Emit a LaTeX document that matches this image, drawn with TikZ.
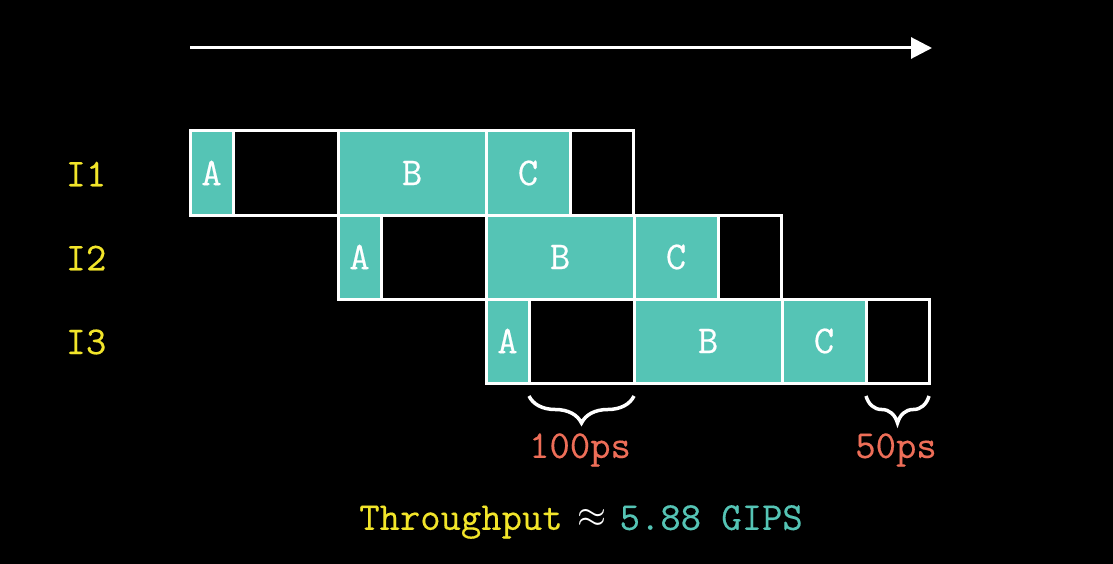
\documentclass[tikz,border=0pt]{standalone}
\usepackage{fontspec}
\newfontfamily\mono{Latin Modern Mono}[FakeBold=0.35]
\usetikzlibrary{arrows.meta,decorations.pathreplacing}
\definecolor{teal1}{HTML}{55C4B5}
\definecolor{yel}{HTML}{F2E52A}
\definecolor{orng}{HTML}{EE6E58}
\newcommand{\bigfont}{\mono\fontsize{39.5}{42}\selectfont}
\tikzset{
  cellbase/.style={rectangle, anchor=north west, inner sep=0pt, outer sep=0pt, line width=3pt, draw=white, minimum height=84pt,
    font=\bigfont, text=white},
  full/.style={cellbase, fill=teal1},
  blank/.style={cellbase, fill=black},
  rowlbl/.style={font=\bigfont, text=yel},
  timelbl/.style={font=\bigfont, text=orng},
  bracestyle/.style={draw=white, line width=3.5pt, decorate, decoration={brace, mirror, amplitude=27pt}},
}
\begin{document}
\begin{tikzpicture}[x=1pt,y=-1pt]
\fill[black] (0,0) rectangle (1113,564);
\useasboundingbox (0,0) rectangle (1113,564);
% time arrow
\coordinate (arrS) at (190,48);
\coordinate (arrE) at (932,48);
\draw[white, line width=3pt, -{Triangle[length=21pt,width=21pt]}] (arrS) -- (arrE);
% rows
\foreach \r/\lab in {0/1,1/2,2/3}{
  \pgfmathsetmacro{\xo}{190+148*\r}
  \pgfmathsetmacro{\yo}{131+84*\r}
  \node[full, minimum width=43pt] (a\lab) at (\xo,\yo) {A};
  \node[blank, minimum width=105pt] (x\lab) at (\xo+43,\yo) {};
  \node[full, minimum width=148pt] (b\lab) at (\xo+148,\yo) {B};
  \node[full, minimum width=84pt] (c\lab) at (\xo+296,\yo) {C};
  \node[blank, minimum width=63pt] (y\lab) at (\xo+380,\yo) {};
  \draw[white, line width=3pt] (\xo,\yo) rectangle (\xo+443,\yo+84);
  \node[rowlbl] (I\lab) at (86,\yo+43) {I\lab};
}
% braces
\draw[bracestyle] ([yshift=-13pt]x3.south west) -- ([yshift=-13pt]x3.south east);
\draw[bracestyle] ([yshift=-13pt]y3.south west) -- ([yshift=-13pt]y3.south east);
\node[timelbl] (t100) at (580,450) {100ps};
\node[timelbl] (t50) at (896,450) {50ps};
% throughput
\node[font=\bigfont, text=white] (tp) at (581,522)
  {\textcolor{yel}{Throughput}\hspace{15pt}\raisebox{2pt}{\scalebox{1.5}{$\approx$}}\hspace{13pt}\textcolor{teal1}{5.88 GIPS}};
\end{tikzpicture}
\end{document}
